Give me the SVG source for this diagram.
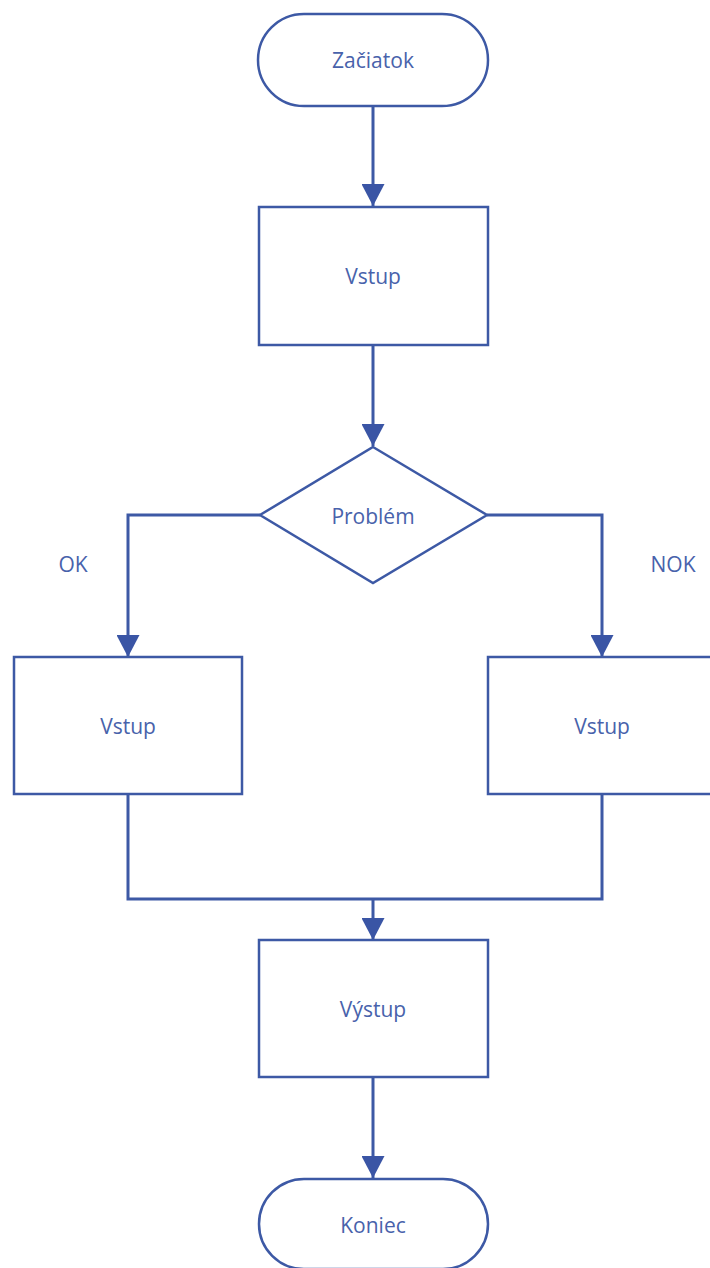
<svg xmlns="http://www.w3.org/2000/svg" width="710" height="1268" viewBox="0 0 710 1268">
<defs>
<style>
.n{fill:#fff;stroke:#3d59a5;stroke-width:2.5}
.c{fill:none;stroke:#3d59a5;stroke-width:3}
.t{font-family:"Open Sans","Liberation Sans",sans-serif;font-size:21px;fill:#4862ab;text-anchor:middle;dominant-baseline:central}
</style>
<marker id="a" viewBox="0 0 22 23" refX="22" refY="11.5" markerWidth="22" markerHeight="23" markerUnits="userSpaceOnUse" orient="auto">
<path d="M0,0 L22,11.5 L0,23 Z" fill="#3a55a5"/>
</marker>
</defs>
<g id="connectors">
<path class="c" d="M373,107 V206" marker-end="url(#a)"/>
<path class="c" d="M373,345 V446" marker-end="url(#a)"/>
<path class="c" d="M260,515 H128 V657" marker-end="url(#a)"/>
<path class="c" d="M487,515 H602 V657" marker-end="url(#a)"/>
<path class="c" d="M128,794 V899 H602 V794"/>
<path class="c" d="M373,899 V940" marker-end="url(#a)"/>
<path class="c" d="M373,1077 V1178" marker-end="url(#a)"/>
<text class="t" x="73" y="564">OK</text>
<text class="t" x="673" y="564">NOK</text>
</g>
<g id="start">
<rect class="n" x="258" y="14" width="230" height="92" rx="46"/>
<text class="t" x="373" y="60">Začiatok</text>
</g>
<g id="input">
<rect class="n" x="259" y="207" width="229" height="138"/>
<text class="t" x="373" y="276">Vstup</text>
</g>
<g id="decision">
<polygon class="n" points="373,447 487,515 373,583 260,515"/>
<text class="t" x="373" y="516">Problém</text>
</g>
<g id="ok">
<rect class="n" x="14" y="657" width="228" height="137"/>
<text class="t" x="128" y="726">Vstup</text>
</g>
<g id="nok">
<rect class="n" x="488" y="657" width="228" height="137"/>
<text class="t" x="602" y="726">Vstup</text>
</g>
<g id="output">
<rect class="n" x="259" y="940" width="229" height="137"/>
<text class="t" x="373" y="1009">Výstup</text>
</g>
<g id="end">
<rect class="n" x="259" y="1179" width="229" height="90" rx="45"/>
<text class="t" x="373" y="1225">Koniec</text>
</g>
</svg>
